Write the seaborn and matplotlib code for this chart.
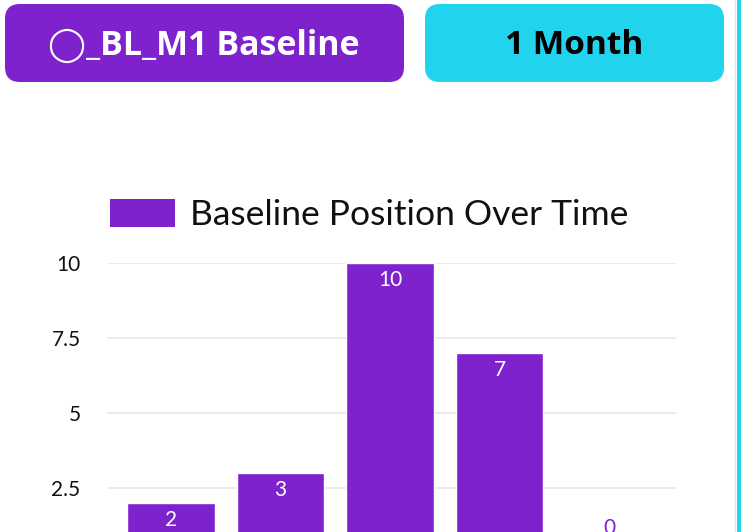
import matplotlib
matplotlib.use('Agg')
import matplotlib.pyplot as plt
from matplotlib.patches import FancyBboxPatch, Patch
import seaborn as sns
import pandas as pd

# Valores do gráfico
periods = ['P1', 'P2', 'P3', 'P4', 'P5']
positions = [2, 3, 10, 7, 0]
y_ticks = [0, 2.5, 5, 7.5, 10]
y_tick_labels = ['0', '2.5', '5', '7.5', '10']
series_name = 'Baseline Position Over Time'
button_left = '\u25EF_BL_M1 Baseline'
button_right = '1 Month'

purple = '#7E22CE'
cyan = '#22D3EE'

sns.set_theme(style='white')
plt.rcParams['font.family'] = ['Lato', 'DejaVu Sans']

W, H = 741, 532
fig = plt.figure(figsize=(W / 100, H / 100), dpi=100)
fig.patch.set_facecolor('white')

# Camada de fundo em pixels para os botões
bg = fig.add_axes([0, 0, 1, 1])
bg.set_xlim(0, W)
bg.set_ylim(H, 0)
bg.axis('off')
bg.add_patch(FancyBboxPatch((5, 4), 399, 78, boxstyle='round,pad=0,rounding_size=15',
                            fc=purple, ec='none'))
bg.add_patch(FancyBboxPatch((425, 4), 299, 78, boxstyle='round,pad=0,rounding_size=15',
                            fc=cyan, ec='none'))
bg.text(204, 46, button_left, color='white', fontsize=24.5, fontweight='bold',
        ha='center', va='center', family=['Open Sans', 'DejaVu Sans'])
bg.text(574, 46, button_right, color='black', fontsize=24, fontweight='bold',
        ha='center', va='center', family=['Open Sans', 'DejaVu Sans'])
# borda direita
bg.axvline(735, color='#e6e6e6', lw=1)
bg.add_patch(FancyBboxPatch((737, -10), 10, H + 20, boxstyle='round,pad=0,rounding_size=4',
                            fc=cyan, ec='none'))

# Eixo do gráfico (parte inferior cortada)
x0, x1, ytop, yzero = 107, 676, 263, 563
ax = fig.add_axes([x0 / W, (H - yzero) / H, (x1 - x0) / W, (yzero - ytop) / H])
ax.patch.set_alpha(0)

df = pd.DataFrame({'period': periods, 'position': positions})
sns.barplot(data=df, x='period', y='position', color=purple, saturation=1,
            width=0.8, ax=ax)

ax.set_xlim(-0.584, 4.612)
ax.set_ylim(0, 10)
ax.set_yticks(y_ticks)
ax.set_yticklabels(y_tick_labels, fontsize=15, color='#111111')
ax.tick_params(axis='y', length=0, pad=19)
ax.set_xticks([])
ax.set_xlabel('')
ax.set_ylabel('')
for s in ax.spines.values():
    s.set_visible(False)
ax.yaxis.grid(True, color='#e8e8e8', lw=1.2)
ax.set_axisbelow(True)

# Rótulos de valor
for i, v in enumerate(positions):
    if v > 0:
        ax.annotate(str(v), (i, v), xytext=(0, -5), textcoords='offset points',
                    ha='center', va='top', color='white', fontsize=15)
    else:
        ax.annotate(str(v), (i, v), xytext=(0, 25), textcoords='offset points',
                    ha='center', va='center', color=purple, fontsize=15)

# Legenda
handle = Patch(facecolor=purple, edgecolor='none', label=series_name)
fig.legend(handles=[handle], loc='center left', bbox_to_anchor=(110 / W, (H - 215) / H),
           frameon=False, handlelength=1.83, handleheight=0.84,
           handletextpad=0.42, borderpad=0, borderaxespad=0,
           prop={'size': 25.5, 'family': ['Lato', 'DejaVu Sans']}, labelcolor='#111111')

fig.savefig('out.png', dpi=100)
